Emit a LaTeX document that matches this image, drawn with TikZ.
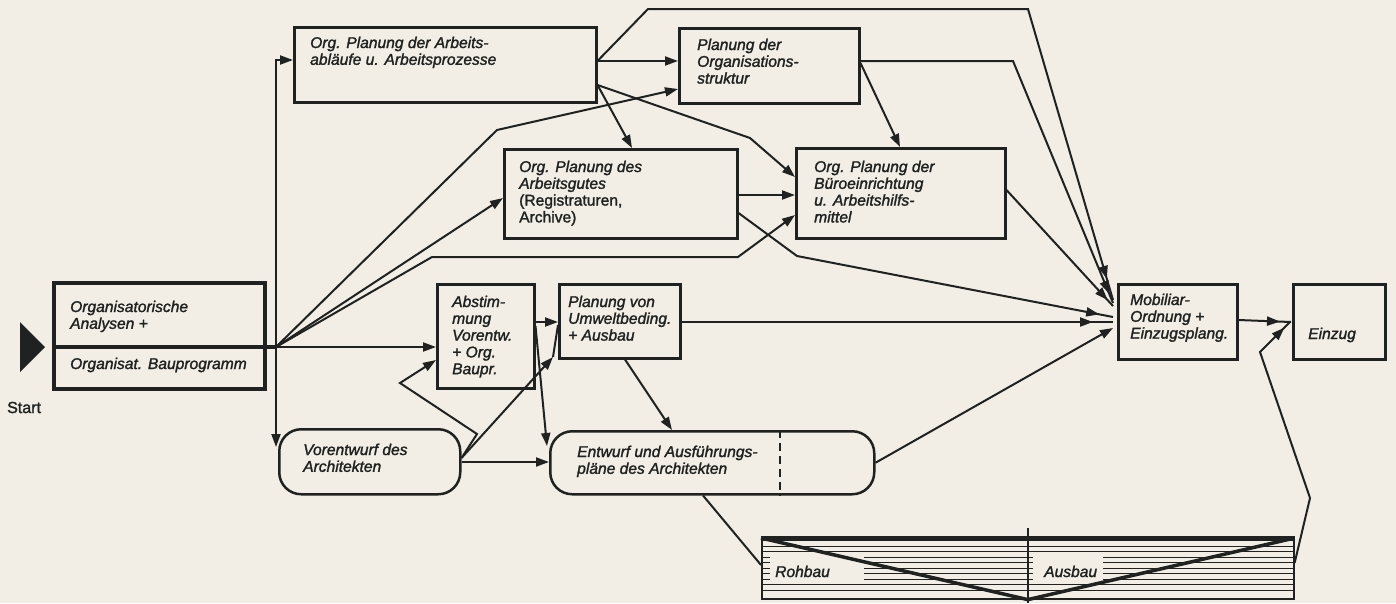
\documentclass[tikz,border=0pt]{standalone}
\usepackage{fontspec}
\setmainfont{Liberation Sans}[FakeBold=1.6]
\usetikzlibrary{arrows.meta,decorations.markings}
\definecolor{paper}{HTML}{F2EEE5}
\definecolor{ink}{HTML}{1F2220}
\newcommand\btext[1]{\parbox[t]{260pt}{\raggedright #1}}
\begin{document}
\begin{tikzpicture}[x=1pt,y=-1pt,
  >={Triangle[length=13pt,width=9pt]},
  box/.style={draw=ink,line width=2.5pt,rectangle,inner sep=0pt,anchor=north west},
  rbox/.style={box,rounded corners=22pt},
  txt/.style={anchor=base west,inner sep=0pt,text=ink,font=\fontsize{15.6}{16.8}\selectfont\itshape},
  ln/.style={draw=ink,line width=2pt,line join=miter},
  arr/.style={ln,->},
  tipat/.style={ln,postaction={decorate},decoration={markings,mark=at position #1 with {\arrow{Triangle[length=13pt,width=9pt]}}}},
]
\useasboundingbox (0,0) rectangle (1396,603);
\fill[paper] (0,0) rectangle (1396,603);

% start marker
\fill[ink] (20,322) -- (45,347) -- (20,372) -- cycle;
\node[txt,font=\fontsize{16}{17}\selectfont] (st) at (7,413) {Start};

% boxes
\node[box,line width=4pt,minimum width=211pt,minimum height=106pt] (A) at (52,281) {};
\node[box,minimum width=302pt,minimum height=75pt] (B) at (293,26) {};
\node[box,minimum width=180pt,minimum height=75pt] (C) at (678,27) {};
\node[box,minimum width=233pt,minimum height=89pt] (D) at (503,148) {};
\node[box,minimum width=209pt,minimum height=90pt] (E) at (795,147) {};
\node[box,minimum width=97pt,minimum height=104pt] (F) at (436,283) {};
\node[box,minimum width=121pt,minimum height=74pt] (G) at (558,283) {};
\node[rbox,minimum width=181pt,minimum height=65pt] (H) at (278,428) {};
\node[rbox,minimum width=324pt,minimum height=63pt] (I) at (549,430) {};
\node[box,minimum width=119pt,minimum height=75pt] (J) at (1117,283) {};
\node[box,minimum width=92pt,minimum height=75pt] (K) at (1292,283) {};
\node[box,line width=1.6pt,minimum width=532pt,minimum height=60pt] (L) at (761,538) {};

% texts
\node[txt] (tA1) at (70,312) {\btext{Organisatorische\\Analysen +}};
\node[txt] (tA2) at (70,369) {Organisat. Bauprogramm};
\node[txt] (tB) at (310,48) {\btext{Org. Planung der Arbeits-\\abläufe u. Arbeitsprozesse}};
\node[txt] (tC) at (697,50) {\btext{Planung der\\Organisations-\\struktur}};
\node[txt] (tD) at (519,172) {\btext{Org. Planung des\\Arbeitsgutes\\\upshape(Registraturen,\\Archive)}};
\node[txt] (tE) at (814,172) {\btext{Org. Planung der\\Büroeinrichtung\\u. Arbeitshilfs-\\mittel}};
\node[txt] (tF) at (452,307) {\btext{Abstim-\\mung\\Vorentw.\\+ Org.\\Baupr.}};
\node[txt] (tG) at (568,307) {\btext{Planung von\\Umweltbeding.\\+ Ausbau}};
\node[txt] (tH) at (303,455) {\btext{Vorentwurf des\\Architekten}};
\node[txt] (tI) at (577,457) {\btext{Entwurf und Ausführungs-\\pläne des Architekten}};
\node[txt] (tJ) at (1130,305) {\btext{Mobiliar-\\Ordnung +\\Einzugsplang.}};
\node[txt] (tK) at (1308,339) {Einzug};

% coordinates
\coordinate (jn) at (276,347);
\coordinate (vt) at (276,447);
\coordinate (m1) at (1113,300);
\coordinate (m2) at (1113,303);
\coordinate (m3) at (1113,306);
\coordinate (m4) at (1113,317);
\coordinate (m5) at (1113,322);
\coordinate (m6) at (1113,328);
\coordinate (hg) at (553,357);
\coordinate (fi) at (547,446);
\coordinate (k1) at (1291,322);
\coordinate (k2) at (1290,322);

% A divider and junction
\draw[ink,line width=3.5pt] (A.west |- jn) -- (jn);
\draw[arr] (jn) -- (F.west |- jn);
\draw[ln,<->] (vt) |- (B.west |- 0,60);
\draw[arr] (jn) -- (D.west |- 0,198);
\draw[arr] (jn) -- (432,257) -- (738,257) -- (E.west |- 0,215);
\draw[arr] (jn) -- (497,130) -- (C.west |- 0,89);

% from B
\draw[arr] (B.east |- 0,61) -- (C.west |- 0,61);
\draw[tipat=-22pt] (B.east |- 0,61) -- (648,9) -- (1028,9) -- (m1);
\draw[arr] (B.east |- 0,85) -- (D.north -| 632,0);
\draw[arr] (B.east |- 0,85) -- (750,138) -- (E.west |- 0,177);

% from C
\draw[arr] (C.east |- 0,63) -- (E.north -| 900,0);
\draw[tipat=-10pt] (C.east |- 0,61) -- (1013,61) -- (m2);

% from D and E
\draw[arr] (D.east |- 0,195) -- (E.west |- 0,195);
\draw[tipat=-14pt] (D.east |- 0,213) -- (797,256) -- (m4);
\draw[tipat=-8pt] (E.east |- 0,190) -- (m3);

% from F and G
\draw[arr] (F.east |- 0,322) -- (G.west |- 0,322);
\draw[arr] (F.east |- 0,326) -- (fi);
\draw[arr] (G.south -| 625,0) -- (I.north -| 672,0);
\draw[tipat=-20pt] (G.east |- 0,322) -- (m5);

% from H
\draw[arr] (H.east |- 0,462) -- (I.west |- 0,462);
\draw[arr] (H.east |- 0,458) -- (hg);
\draw[ln] (hg) -- (G.west |- 0,325);
\draw[arr] (H.east |- 0,458) -- (477,434) -- (400,383) -- (F.west |- 0,360);

% from I
\draw[arr] (I.east) -- (m6);
\draw[ink,line width=2pt,dash pattern=on 8pt off 5pt] (I.north -| 780,0) -- (I.south -| 780,0);
\draw[ln] (I.south -| 703,0) -- (L.west |- 0,565);

% to Einzug
\draw[tipat=-11pt] (J.east |- 0,320) -- (k1);
\draw[tipat=-8pt] (L.east |- 0,563) -- (1310,498) -- (1260,352) -- (k2);

% bar internals
\foreach \yy in {546,551.5,...,594} \draw[ink,line width=1pt] (L.west |- 0,\yy) -- (L.east |- 0,\yy);
\fill[paper] (770,556) rectangle (864,584);
\fill[paper] (1033,556) rectangle (1103,584);
\draw[ink,line width=5pt] (L.north west) -- (L.north east);
\draw[ink,line width=3.5pt,line join=round] (L.north west) -- (L.south) -- (L.north east);
\draw[ink,line width=2pt] (L.south |- 0,528) -- (L.south |- 0,603);
\node[txt] (tR) at (775,577) {Rohbau};
\node[txt] (tAu) at (1044,577) {Ausbau};
\end{tikzpicture}
\end{document}
